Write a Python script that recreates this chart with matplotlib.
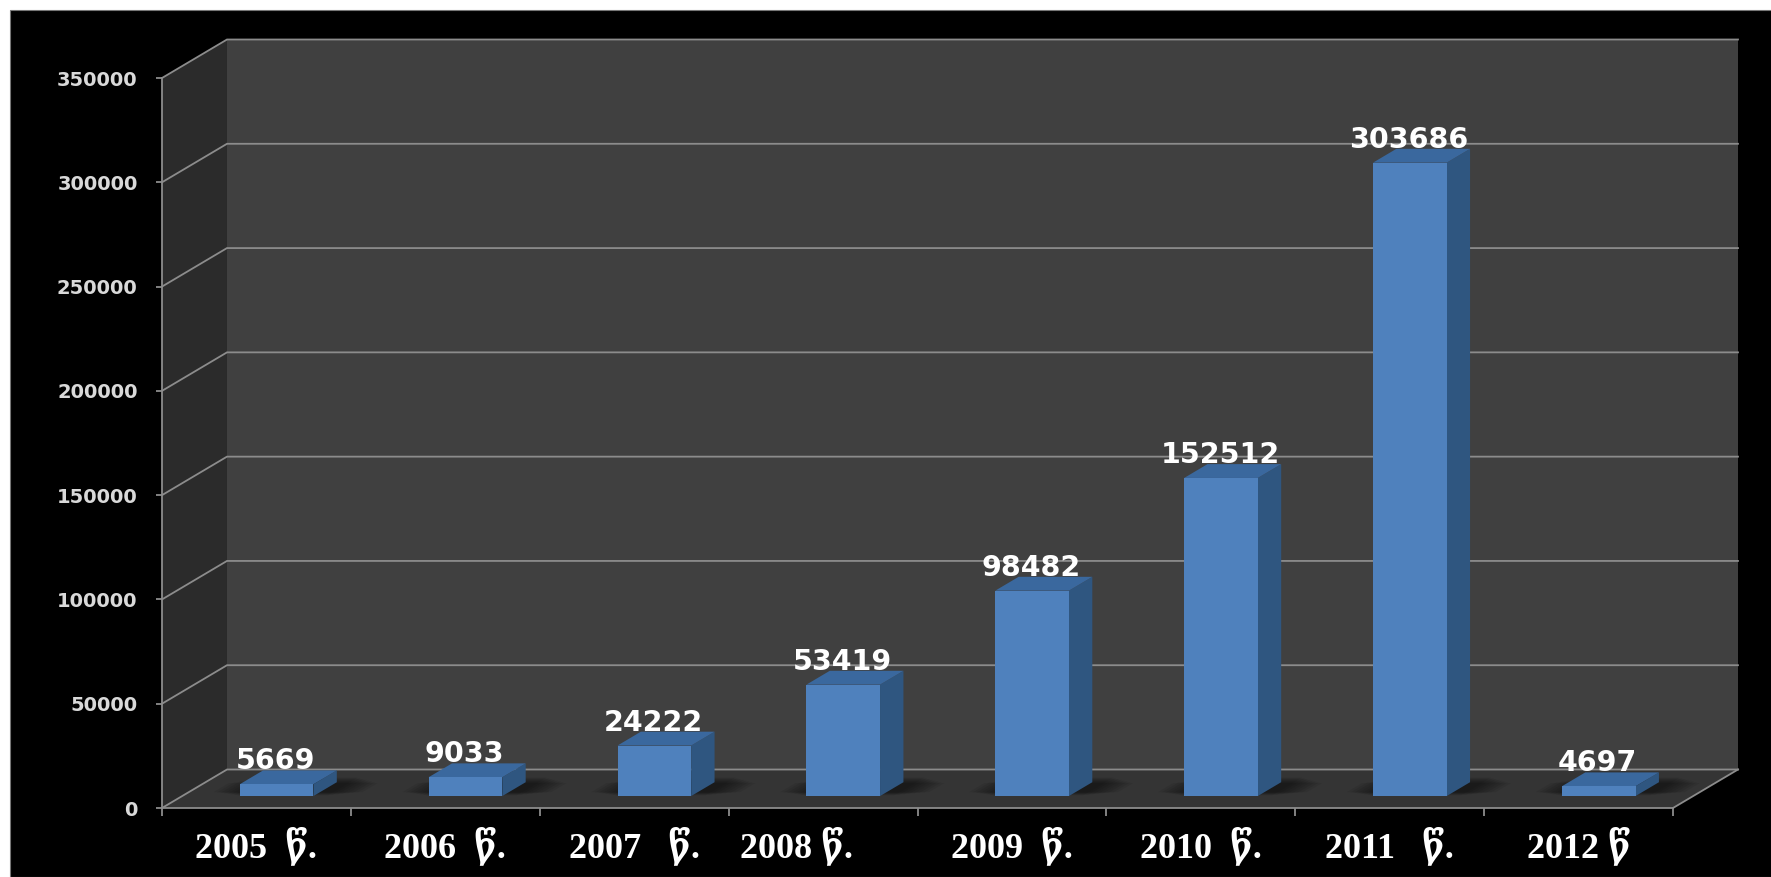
import matplotlib
matplotlib.use('Agg')
import matplotlib.pyplot as plt
from matplotlib.patches import Polygon, Rectangle

years = ['2005  წ.', '2006  წ.', '2007   წ.', '2008 წ.      ', '2009  წ.', '2010  წ.', '2011   წ.', '2012 წ']
values = [5669, 9033, 24222, 53419, 98482, 152512, 303686, 4697]
y_ticks = [0, 50000, 100000, 150000, 200000, 250000, 300000, 350000]

W, H = 1771, 877
# chart depth, in category and value units
DX = 65 / 188.9
DY = 38.5 / 104.3 * 50000
BAR_W = 0.39
D_FRONT = 0.31
D_BACK = 0.67


def pt(x, y, d=0.0):
    return (x + d * DX, y + d * DY)


fig = plt.figure(figsize=(W / 100, H / 100), dpi=100, facecolor='white')
fig.add_artist(Rectangle((10 / W, 0), 1, 1 - 10 / H, transform=fig.transFigure,
                         facecolor='black', edgecolor='#777777', linewidth=0.8, zorder=-1))
ax = fig.add_axes([162 / W, (H - 808) / H, (1673 - 162) / W, (808 - 78) / H])
ax.patch.set_visible(False)
ax.set_xlim(0, 8)
ax.set_ylim(0, 350000)

n = len(years)
top = y_ticks[-1]


def poly(points, **kw):
    kw.setdefault('linewidth', 0)
    ax.add_patch(Polygon(points, closed=True, clip_on=False, **kw))


# walls and floor
poly([pt(0, 0, 1), pt(n, 0, 1), pt(n, top, 1), pt(0, top, 1)], facecolor='#404040', zorder=1)
poly([pt(0, 0), pt(0, 0, 1), pt(0, top, 1), pt(0, top)], facecolor='#2b2b2b', zorder=1)
poly([pt(0, 0), pt(n, 0), pt(n, 0, 1), pt(0, 0, 1)], facecolor='#343434', zorder=1)

# gridlines
for v in y_ticks:
    xs, ys = zip(pt(0, v), pt(0, v, 1), pt(n, v, 1))
    ax.plot(xs, ys, color='#8c8c8c', lw=1.3, zorder=2, clip_on=False, solid_joinstyle='miter')
xs, ys = zip(pt(n, 0), pt(n, 0, 1))
ax.plot(xs, ys, color='#8c8c8c', lw=1.3, zorder=2, clip_on=False)

# bars
for i, v in enumerate(values):
    x0 = i + 0.5 - BAR_W / 2
    x1 = i + 0.5 + BAR_W / 2
    # soft floor shadow, layers get narrower towards the bar
    for k in range(8):
        g = 0.02 + k * 0.022
        d0 = D_FRONT + 0.02 + k * 0.012
        d1 = D_BACK + 0.12 - k * 0.02
        poly([pt(x0 - g, 0, d0), pt(x1 + g + 0.05, 0, d0),
              pt(x1 + g + 0.05, 0, d1), pt(x0 - g, 0, d1)],
             facecolor='black', alpha=0.07, zorder=3)
    poly([pt(x1, 0, D_FRONT), pt(x1, 0, D_BACK), pt(x1, v, D_BACK), pt(x1, v, D_FRONT)],
         facecolor='#2f5680', zorder=4)
    poly([pt(x0, v, D_FRONT), pt(x1, v, D_FRONT), pt(x1, v, D_BACK), pt(x0, v, D_BACK)],
         facecolor='#3a689e', zorder=4)
    poly([pt(x0, 0, D_FRONT), pt(x1, 0, D_FRONT), pt(x1, v, D_FRONT), pt(x0, v, D_FRONT)],
         facecolor='#4f81bd', zorder=5)
    ax.annotate(str(v), xy=pt(i + 0.5, v, D_FRONT), xytext=(-1, 23), textcoords='offset pixels',
                ha='center', va='center', color='white', fontsize=20.5, fontweight='bold',
                family='DejaVu Sans', zorder=6, annotation_clip=False)

# axes
for name in ['top', 'right']:
    ax.spines[name].set_visible(False)
for name in ['left', 'bottom']:
    ax.spines[name].set_color('#8c8c8c')
    ax.spines[name].set_linewidth(1.3)
    ax.spines[name].set_zorder(7)

ax.set_yticks(y_ticks)
ax.set_yticklabels([str(t) for t in y_ticks], fontsize=14, fontweight='bold', color='#d9d9d9',
                   family='DejaVu Sans')
ax.tick_params(axis='y', color='#8c8c8c', length=4.5, width=1.3, pad=13)

ax.set_xticks(range(n + 1))
ax.set_xticklabels([])
ax.set_xticks([i + 0.5 for i in range(n)], minor=True)
ax.set_xticklabels(years, minor=True, fontsize=26, fontweight='bold', color='white',
                   family=['Liberation Serif', 'DejaVu Serif', 'DejaVu Sans'])
ax.tick_params(axis='x', which='major', color='#8c8c8c', length=6, width=1.3)
ax.tick_params(axis='x', which='minor', length=0, pad=13)

fig.savefig('out.png', dpi=100, facecolor='white')
